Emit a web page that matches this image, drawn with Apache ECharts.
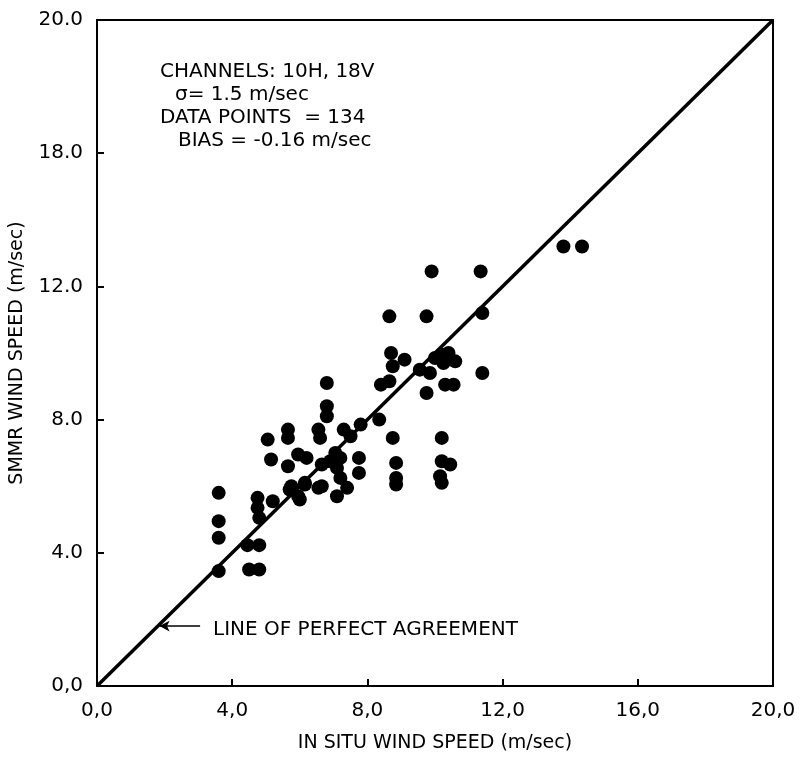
<!DOCTYPE html>
<html>
<head>
<meta charset="utf-8">
<script src="https://cdn.jsdelivr.net/npm/echarts@6/dist/echarts.min.js"></script>
<style>
html,body{margin:0;padding:0;background:#fff;}
#chart{width:800px;height:758px;}
</style>
</head>
<body>
<div id="chart"></div>
<script>
// Tick values and labels (as printed on the original figure)
const xTickValues = [0, 4, 8, 12, 16, 20];
const xTickLabels = ['0,0', '4,0', '8,0', '12,0', '16,0', '20,0'];
const yTickValues = [0, 4, 8, 12, 16, 20];
const yTickLabels = ['0,0', '4.0', '8.0', '12.0', '18.0', '20.0'];

// In situ wind speed (x) for each data point
const inSitu = [
  3.6, 3.6, 3.6, 3.6,
  4.45, 4.8, 4.5, 4.8,
  4.75, 4.75, 4.8, 5.2, 5.05, 5.15,
  5.7, 6.0, 6.15, 6.55,
  5.65, 5.65, 6.55, 6.6,
  6.8, 6.8, 6.8,
  7.3, 7.5, 7.8, 8.35,
  5.95, 6.2, 5.65, 6.65, 7.1, 7.2, 7.75, 7.75, 7.2, 6.65, 6.15, 5.75, 5.95, 7.1, 7.4,
  7.05, 6.9,
  9.9, 11.35, 8.65, 9.75, 11.4,
  8.7, 9.1, 8.75, 9.55, 9.85, 8.65, 8.4,
  10.2, 10.4, 10.6, 10.25, 10.0,
  10.3, 10.55, 9.75, 11.4,
  8.75, 10.2, 8.85, 8.85, 8.85, 10.2, 10.15, 10.2, 10.45,
  13.8, 14.35
];
// SMMR wind speed (y) for each data point
const smmr = [
  5.8, 4.95, 4.45, 3.45,
  4.23, 4.23, 3.5, 3.5,
  5.65, 5.35, 5.05, 5.55, 7.4, 6.8,
  5.9, 5.6, 6.05, 5.95,
  7.7, 7.45, 7.7, 7.45,
  8.4, 8.1, 9.1,
  7.7, 7.5, 7.85, 8.0,
  6.95, 6.85, 6.6, 6.65, 6.55, 6.85, 6.85, 6.4, 6.25, 6.0, 6.1, 6.0, 5.7, 5.7, 5.95,
  7.0, 6.75,
  12.45, 12.45, 11.1, 11.1, 11.2,
  10.0, 9.8, 9.6, 9.5, 9.4, 9.15, 9.05,
  9.95, 10.0, 9.75, 9.7, 9.85,
  9.05, 9.05, 8.8, 9.4,
  7.45, 7.45, 6.7, 6.25, 6.05, 6.75, 6.3, 6.1, 6.65,
  13.2, 13.2
];

// Line of perfect agreement
const agreeX = [0, 20];
const agreeY = [0, 20];

const points = inSitu.map((x, i) => [x, smmr[i]]);
const agreeLine = agreeX.map((x, i) => [x, agreeY[i]]);

const FONT = 'DejaVu Sans';
const TXT = '20px "DejaVu Sans"';
const chart = echarts.init(document.getElementById('chart'));
chart.setOption({
  backgroundColor: '#fff',
  animation: false,
  textStyle: { fontFamily: FONT, color: '#000' },
  grid: { left: 97, right: 27, top: 20, bottom: 66, show: true, borderColor: '#000', borderWidth: 2, backgroundColor: 'transparent' },
  xAxis: {
    type: 'value', min: 0, max: 20, interval: 4,
    name: 'IN SITU WIND SPEED (m/sec)', nameLocation: 'middle', nameGap: 48,
    nameTextStyle: { fontFamily: FONT, fontSize: 19, color: '#000' },
    axisLine: { show: true, lineStyle: { color: '#000', width: 2 } },
    axisTick: { show: true, inside: true, length: 7, lineStyle: { color: '#000', width: 2 } },
    splitLine: { show: false },
    axisLabel: { fontFamily: FONT, fontSize: 20, color: '#000', margin: 15,
      formatter: v => xTickLabels[xTickValues.indexOf(v)] }
  },
  yAxis: {
    type: 'value', min: 0, max: 20, interval: 4,
    name: 'SMMR WIND SPEED (m/sec)', nameLocation: 'middle', nameGap: 70, nameRotate: 90,
    nameTextStyle: { fontFamily: FONT, fontSize: 19, color: '#000' },
    axisLine: { show: true, lineStyle: { color: '#000', width: 2 } },
    axisTick: { show: true, inside: true, length: 7, lineStyle: { color: '#000', width: 2 } },
    splitLine: { show: false },
    axisLabel: { fontFamily: FONT, fontSize: 20, color: '#000', margin: 14,
      formatter: v => yTickLabels[yTickValues.indexOf(v)] }
  },
  series: [
    {
      type: 'line', data: agreeLine, symbol: 'none', silent: true,
      lineStyle: { color: '#000', width: 3.5 },
      markLine: {
        silent: true, symbol: ['arrow', 'none'], symbolSize: [8, 10],
        lineStyle: { color: '#000', width: 1.5, type: 'solid' },
        label: { show: false },
        data: [[{ coord: [1.85, 1.8] }, { coord: [3.05, 1.8] }]]
      }
    },
    {
      type: 'scatter', data: points, symbol: 'circle', symbolSize: 14,
      itemStyle: { color: '#000', opacity: 1 }
    }
  ],
  graphic: [
    { type: 'text', left: 160, top: 62, style: { text: 'CHANNELS: 10H, 18V', font: TXT, fill: '#000' } },
    { type: 'text', left: 175, top: 85, style: { text: 'σ= 1.5 m/sec', font: TXT, fill: '#000' } },
    { type: 'text', left: 160, top: 108, style: { text: 'DATA POINTS  = 134', font: TXT, fill: '#000' } },
    { type: 'text', left: 178, top: 131, style: { text: 'BIAS = -0.16 m/sec', font: TXT, fill: '#000' } },
    { type: 'text', left: 213, top: 620, style: { text: 'LINE OF PERFECT AGREEMENT', font: TXT, fill: '#000' } }
  ]
});
</script>
</body>
</html>
